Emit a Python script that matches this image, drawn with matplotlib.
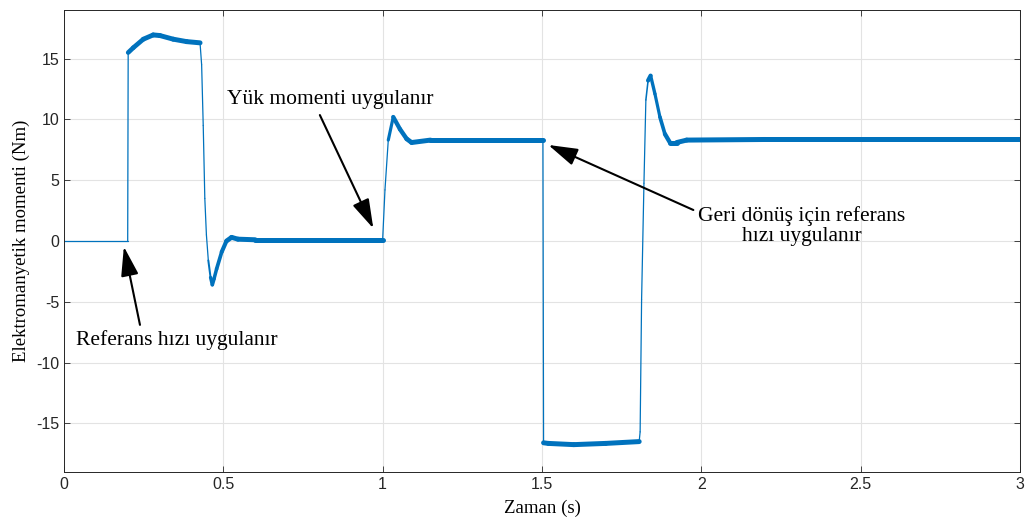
import numpy as np
import matplotlib.pyplot as plt
from matplotlib.collections import LineCollection

# values (time in s, torque in Nm)
t = [0.0, 0.2, 0.2015, 0.2176, 0.249, 0.28, 0.301, 0.343, 0.385, 0.427,
     0.432, 0.437, 0.442, 0.447, 0.453, 0.460, 0.4655, 0.471, 0.479, 0.495,
     0.51, 0.526, 0.546, 0.6, 0.7, 0.8, 0.9, 1.0,
     1.0073, 1.0177, 1.0333, 1.0544, 1.0754, 1.091, 1.15, 1.3, 1.503,
     1.505, 1.52, 1.6, 1.7, 1.805,
     1.808, 1.8126, 1.82, 1.826, 1.833, 1.8409, 1.8545, 1.8701, 1.8858,
     1.9015, 1.9226, 1.954, 2.2, 2.6, 3.0]
torque = [0.0, 0.0, 15.5, 15.9, 16.6, 16.95, 16.9, 16.6, 16.4, 16.3,
          14.5, 9.5, 3.5, 0.5, -1.6, -3.0, -3.6, -3.1, -2.3, -0.9,
          0.0, 0.3, 0.15, 0.1, 0.1, 0.1, 0.1, 0.1,
          4.2, 8.3, 10.2, 9.2, 8.4, 8.1, 8.3, 8.3, 8.3,
          -16.6, -16.65, -16.75, -16.65, -16.5,
          -15.7, -4.8, 4.75, 11.6, 13.2, 13.6, 12.1, 10.2, 8.8,
          8.1, 8.1, 8.3, 8.35, 8.35, 8.35]

xticks = [0, 0.5, 1, 1.5, 2, 2.5, 3]
xticklabels = ["0", "0.5", "1", "1.5", "2", "2.5", "3"]
yticks = [-15, -10, -5, 0, 5, 10, 15]

blue = "#0072BD"
serif = ["Liberation Serif", "DejaVu Serif"]
plt.rcParams["axes.unicode_minus"] = False

fig = plt.figure(figsize=(10.35, 5.27), dpi=100)
ax = fig.add_axes([0.0618, 0.1044, 0.9237, 0.8766])

# thin line on fast edges, wider band where the measured signal is noisy
T = np.array(t)
Y = np.array(torque)
pts = np.column_stack([T, Y]).reshape(-1, 1, 2)
segs = np.concatenate([pts[:-1], pts[1:]], axis=1)
slope = np.abs(np.diff(Y) / np.diff(T))
band = np.clip(1 - slope / 250, 0, 1)
band[T[:-1] < 0.2] = 0
widths = 0.9 + 2.7 * band
lc = LineCollection(segs, linewidths=widths, colors=blue, capstyle="round",
                    joinstyle="round")
ax.add_collection(lc)

ax.set_xlim(0, 3)
ax.set_ylim(-19, 19)
ax.set_xticks(xticks)
ax.set_xticklabels(xticklabels)
ax.set_yticks(yticks)
ax.grid(True, color="#e3e3e3", lw=0.8)
ax.set_axisbelow(True)
ax.tick_params(direction="in", top=True, right=True, length=4, width=0.6,
               color="#262626", labelsize=11.5, labelcolor="#262626")
for lab in ax.get_xticklabels() + ax.get_yticklabels():
    lab.set_family(["Liberation Sans", "DejaVu Sans"])
for s in ax.spines.values():
    s.set_color("#262626")
    s.set_linewidth(0.7)

ax.set_xlabel("Zaman (s)", family=serif, fontsize=13.5, labelpad=6)
ax.set_ylabel("Elektromanyetik momenti (Nm)", family=serif, fontsize=13.5,
              labelpad=4)

arrow = dict(arrowstyle="-|>,head_length=0.5,head_width=0.15", color="black",
             lw=1.5, mutation_scale=36, shrinkA=0, shrinkB=0)
ax.annotate("", xy=(0.188, -0.47), xytext=(0.2385, -6.9), arrowprops=arrow)
ax.text(0.353, -8.14, "Referans hızı uygulanır", family=serif, fontsize=15.5,
        ha="center", va="center")

ax.annotate("", xy=(0.9707, 1.04), xytext=(0.803, 10.36), arrowprops=arrow)
ax.text(0.8347, 11.6, "Yük momenti uygulanır", family=serif, fontsize=15.5,
        ha="center", va="center")

ax.annotate("", xy=(1.52, 7.9), xytext=(1.975, 2.55), arrowprops=arrow)
ax.text(2.316, 1.23, "Geri dönüş için referans\nhızı uygulanır", family=serif,
        fontsize=15.5, ha="center", va="center", linespacing=1.05)

fig.savefig("out.png", dpi=100)
